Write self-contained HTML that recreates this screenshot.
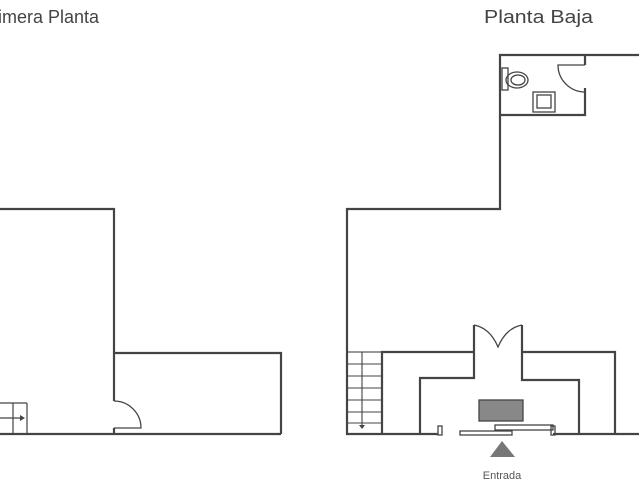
<!DOCTYPE html>
<html><head><style>html,body{margin:0;padding:0;background:#fff;}svg{display:block}</style></head>
<body>
<svg width="639" height="480" viewBox="0 0 639 480" xmlns="http://www.w3.org/2000/svg">
<g font-family="Liberation Sans, sans-serif" fill="#444">
<text x="-2" y="23" font-size="18" textLength="101" lengthAdjust="spacingAndGlyphs">imera Planta</text>
<text x="484" y="23" font-size="18" textLength="109" lengthAdjust="spacingAndGlyphs">Planta Baja</text>
<text x="502" y="479" font-size="11" text-anchor="middle" fill="#555">Entrada</text>
</g>
<g fill="none" stroke="#444" stroke-width="2.2">
<!-- left plan -->
<polyline points="0,209 114,209 114,401"/>
<polyline points="114,428 114,434"/>
<line x1="0" y1="434" x2="281" y2="434"/>
<polyline points="114,353 281,353 281,434"/>
<path d="M114,401 A27,27 0 0 1 141,428 L114,428" stroke-width="1.3"/>
<g stroke-width="1.2"><line x1="0" y1="403" x2="27" y2="403"/><line x1="27" y1="403" x2="27" y2="434"/><line x1="13" y1="403" x2="13" y2="434"/><line x1="0" y1="418" x2="22" y2="418"/></g>
<polygon points="20,415 25,418 20,421" fill="#444" stroke="none"/>
<!-- right plan -->
<polyline points="639,55 500,55 500,209 347,209 347,434 438,434"/>
<polyline points="500,115 585,115 585,88"/>
<polyline points="585,55 585,65"/>
<path d="M585,65 L558,65 A27,27 0 0 0 585,92" stroke-width="1.3"/>
<line x1="553" y1="434" x2="639" y2="434"/>
<polyline points="382,434 382,352 474,352"/>
<polyline points="474,325 474,378 420,378 420,434"/>
<polyline points="522,325 522,380 579,380 579,434"/>
<polyline points="522,352 615,352 615,434"/>
<path d="M474,325 Q490,328 498,347 Q506,328 522,325" stroke-width="1.3"/>
<g stroke-width="1.1"><rect x="347" y="352" width="35" height="82"/>
<line x1="347" y1="364" x2="382" y2="364"/><line x1="347" y1="376" x2="382" y2="376"/><line x1="347" y1="388" x2="382" y2="388"/><line x1="347" y1="400" x2="382" y2="400"/><line x1="347" y1="412" x2="382" y2="412"/><line x1="347" y1="423" x2="382" y2="423"/><line x1="362" y1="352" x2="362" y2="428"/></g>
<polygon points="359,425 365,425 362,429" fill="#444" stroke="none"/>
<g stroke-width="1.3"><rect x="438" y="426" width="4" height="9"/><rect x="551" y="426" width="4" height="9"/><rect x="460" y="431" width="52" height="4"/><rect x="495" y="425" width="58" height="5"/>
<rect x="479" y="400" width="44" height="21" fill="#888"/>
<rect x="502" y="68" width="6" height="22"/><ellipse cx="517" cy="80" rx="11" ry="8"/><ellipse cx="518" cy="80" rx="7" ry="5"/>
<rect x="533" y="92" width="22" height="20"/><rect x="537" y="95" width="14" height="13"/></g>
</g>
<polygon points="502,441 490,457 515,457" fill="#777"/>
</svg>
</body></html>
